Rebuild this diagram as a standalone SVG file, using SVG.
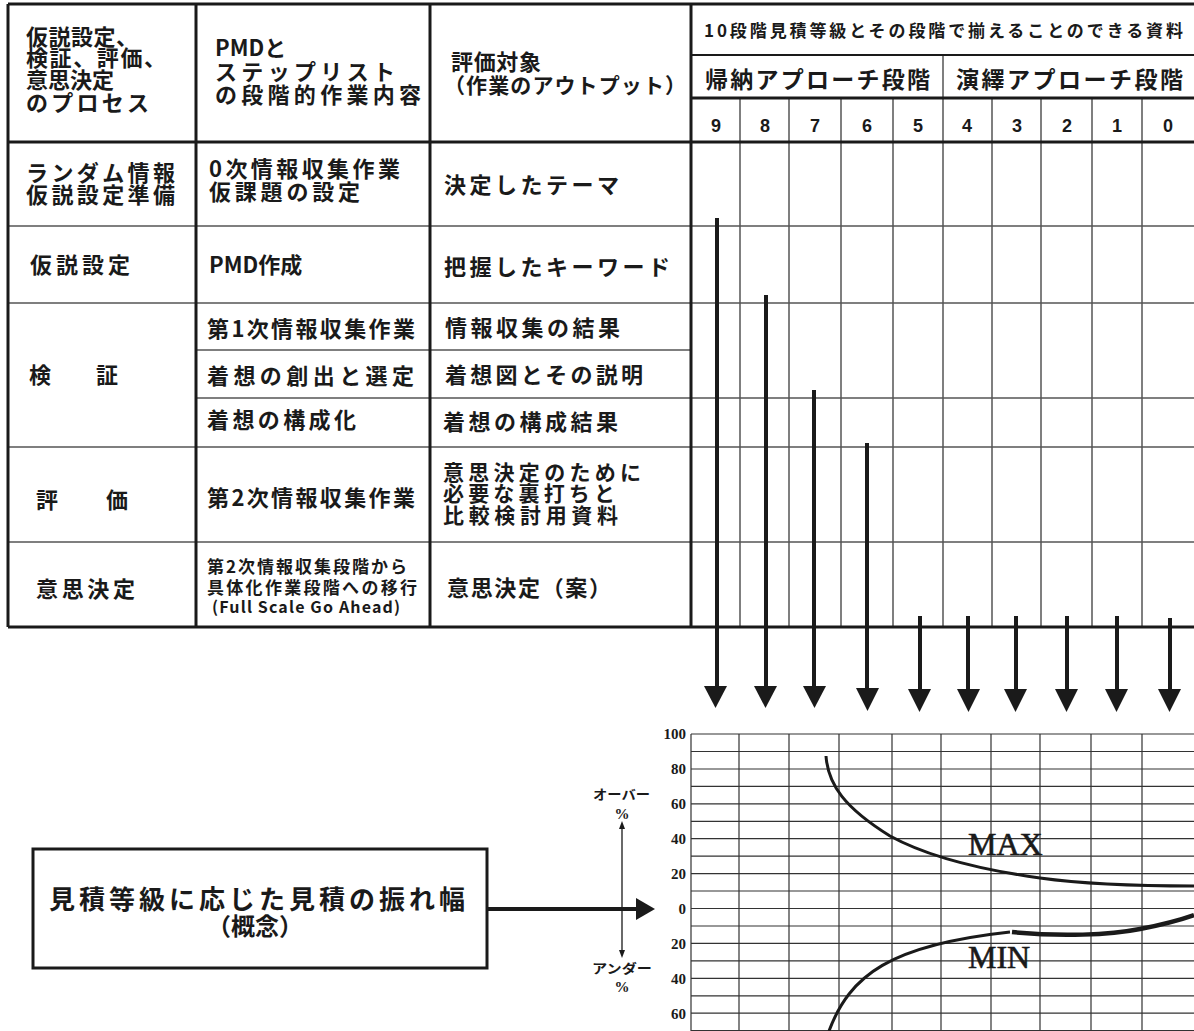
<svg xmlns="http://www.w3.org/2000/svg" width="1194" height="1031" viewBox="0 0 1194 1031">
<style>
.jp{font-family:"Noto Sans CJK JP","Noto Sans",sans-serif;font-weight:bold;fill:#1a1a1a}
.th{stroke:#1a1a1a;stroke-width:3;fill:none}
.md{stroke:#1a1a1a;stroke-width:2;fill:none}
.tn{stroke:#555;stroke-width:1.5;fill:none}
.gr{stroke:#333;stroke-width:1.2;fill:none}
.ar{stroke:#1a1a1a;stroke-width:4;fill:none}
.hd{fill:#1a1a1a}
.ax{font-family:"Liberation Serif",serif;font-weight:bold;font-size:15px;fill:#1a1a1a;text-anchor:end}
.big{font-family:"Liberation Serif",serif;font-size:32px;fill:#1a1a1a;stroke:#1a1a1a;stroke-width:0.6}
.num{font-family:"Liberation Sans",sans-serif;font-weight:bold;font-size:18px;fill:#1a1a1a;text-anchor:middle}
</style>
<rect width="1194" height="1031" fill="#fff"/>
<g id="table-lines">
<path class="tn" d="M8,226H1194M8,303H1194M196,350H691M196,398H1194M8,447H1194M8,542H1194"/>
<path class="tn" d="M740,98V627M789,98V627M841,98V627M893,98V627M992,98V627M1041,98V627M1092,98V627M1142,98V627M943,55V627"/>
<path class="md" d="M691,55H1194"/>
<path class="th" d="M8,4H1194M8,4V627M196,4V627M430,4V627M691,4V627M8,142H1194M691,98H1194M8,627H1194"/>
</g>
<g id="header">
<text class="jp" font-size="22" x="26" y="45" textLength="112">仮説設定、</text>
<text class="jp" font-size="22" x="26" y="66" textLength="140">検証、評価、</text>
<text class="jp" font-size="22" x="26" y="88" textLength="88">意思決定</text>
<text class="jp" font-size="22" x="26" y="111" textLength="123">のプロセス</text>
<text class="jp" font-size="22" x="215" y="56">PMDと</text>
<text class="jp" font-size="22" x="215" y="80" textLength="180">ステップリスト</text>
<text class="jp" font-size="22" x="215" y="103" textLength="206">の段階的作業内容</text>
<text class="jp" font-size="22" x="451" y="70" textLength="90">評価対象</text>
<text class="jp" font-size="21" x="444" y="93" textLength="242">（作業のアウトプット）</text>
<text class="jp" font-size="17" x="704" y="37" textLength="479">10段階見積等級とその段階で揃えることのできる資料</text>
<text class="jp" font-size="23" x="705" y="88" textLength="225">帰納アプローチ段階</text>
<text class="jp" font-size="23" x="956" y="88" textLength="227">演繹アプローチ段階</text>
<text class="num" x="716" y="132">9</text>
<text class="num" x="765" y="132">8</text>
<text class="num" x="815" y="132">7</text>
<text class="num" x="867" y="132">6</text>
<text class="num" x="918" y="132">5</text>
<text class="num" x="967" y="132">4</text>
<text class="num" x="1017" y="132">3</text>
<text class="num" x="1067" y="132">2</text>
<text class="num" x="1117" y="132">1</text>
<text class="num" x="1168" y="132">0</text>
</g>
<g id="row-random">
<text class="jp" font-size="22" x="26" y="181" textLength="149">ランダム情報</text>
<text class="jp" font-size="22" x="26" y="203" textLength="149">仮説設定準備</text>
<text class="jp" font-size="22" x="209" y="177" textLength="191">0次情報収集作業</text>
<text class="jp" font-size="22" x="209" y="200" textLength="151">仮課題の設定</text>
<text class="jp" font-size="22" x="444" y="193" textLength="175">決定したテーマ</text>
</g>
<g id="row-hypothesis">
<text class="jp" font-size="22" x="30" y="273" textLength="100">仮説設定</text>
<text class="jp" font-size="22" x="209" y="273">PMD作成</text>
<text class="jp" font-size="22" x="444" y="275" textLength="226">把握したキーワード</text>
</g>
<g id="row-verify">
<text class="jp" font-size="22" x="29" y="383">検</text>
<text class="jp" font-size="22" x="96" y="383">証</text>
<text class="jp" font-size="22" x="207" y="337" textLength="208">第1次情報収集作業</text>
<text class="jp" font-size="22" x="445" y="336" textLength="175">情報収集の結果</text>
<text class="jp" font-size="22" x="207" y="384" textLength="207">着想の創出と選定</text>
<text class="jp" font-size="22" x="445" y="383" textLength="198">着想図とその説明</text>
<text class="jp" font-size="22" x="207" y="428" textLength="149">着想の構成化</text>
<text class="jp" font-size="22" x="443" y="430" textLength="175">着想の構成結果</text>
</g>
<g id="row-evaluate">
<text class="jp" font-size="22" x="36" y="508">評</text>
<text class="jp" font-size="22" x="106" y="508">価</text>
<text class="jp" font-size="22" x="207" y="506" textLength="208">第2次情報収集作業</text>
<text class="jp" font-size="21" x="443" y="480" textLength="198">意思決定のために</text>
<text class="jp" font-size="21" x="443" y="501" textLength="172">必要な裏打ちと</text>
<text class="jp" font-size="21" x="443" y="523" textLength="175">比較検討用資料</text>
</g>
<g id="row-decide">
<text class="jp" font-size="22" x="36" y="597" textLength="99">意思決定</text>
<text class="jp" font-size="17" x="207" y="573" textLength="200">第2次情報収集段階から</text>
<text class="jp" font-size="17" x="207" y="594" textLength="210">具体化作業段階への移行</text>
<text class="jp" font-size="16" x="212" y="613" textLength="188">(Full Scale Go Ahead)</text>
<text class="jp" font-size="22" x="447" y="596" textLength="164">意思決定（案）</text>
</g>
<g id="connectors">
<path class="ar" d="M717,218V688M766,295V688M814,390V688M867,443V690M920,616V691M968,616V691M1016,616V691M1067,616V691M1117,616V691M1170,618V691"/>
<polygon class="hd" points="704,686 727,686 715.5,708"/>
<polygon class="hd" points="754,686 777,686 765.5,708"/>
<polygon class="hd" points="803,686 826,686 814.5,708"/>
<polygon class="hd" points="856,688 879,688 867.5,711"/>
<polygon class="hd" points="908,689 931,689 919.5,712"/>
<polygon class="hd" points="957,689 980,689 968.5,712"/>
<polygon class="hd" points="1004,689 1027,689 1015.5,712"/>
<polygon class="hd" points="1055,689 1078,689 1066.5,712"/>
<polygon class="hd" points="1105,689 1128,689 1116.5,712"/>
<polygon class="hd" points="1158,689 1181,689 1169.5,712"/>
<path class="ar" d="M487,909H638"/>
<polygon class="hd" points="636,898 655,909 636,920"/>
</g>
<g id="concept-box">
<rect x="33" y="849" width="454" height="119" class="th"/>
<text class="jp" font-size="26" x="49" y="909" textLength="416">見積等級に応じた見積の振れ幅</text>
<text class="jp" font-size="24" x="255" y="935" text-anchor="middle">（概念）</text>
</g>
<g id="chart">
<path class="gr" d="M691,734V1031M739,734V1031M789,734V1031M839,734V1031M892,734V1031M941,734V1031M991,734V1031M1040,734V1031M1091,734V1031M1142,734V1031"/>
<path class="gr" d="M691,734H1194M691,751.5H1194M691,769H1194M691,786.4H1194M691,803.8H1194M691,821.3H1194M691,838.7H1194M691,856.2H1194M691,873.6H1194M691,891H1194M691,908.5H1194M691,926H1194M691,943.4H1194M691,960.9H1194M691,978.3H1194M691,995.8H1194M691,1013.2H1194M691,1030.6H1194"/>
<text class="ax" x="686" y="739">100</text>
<text class="ax" x="686" y="774">80</text>
<text class="ax" x="686" y="809">60</text>
<text class="ax" x="686" y="844">40</text>
<text class="ax" x="686" y="879">20</text>
<text class="ax" x="686" y="914">0</text>
<text class="ax" x="686" y="948.5">20</text>
<text class="ax" x="686" y="983.5">40</text>
<text class="ax" x="686" y="1018.5">60</text>
<path d="M826,756C828,785 845,808 890,836C930,858 990,871 1040,878C1090,885 1140,886 1194,886" stroke="#1a1a1a" stroke-width="3" fill="none"/>
<path d="M829,1031C850,975 890,945 1010,932" stroke="#1a1a1a" stroke-width="3" fill="none"/>
<path d="M1012,932C1060,937 1110,935 1140,929C1160,925 1180,920 1194,915" stroke="#1a1a1a" stroke-width="4.5" fill="none"/>
<text class="big" x="968" y="855">MAX</text>
<text class="big" x="968" y="968">MIN</text>
<path d="M622,826V952" stroke="#1a1a1a" stroke-width="1.3" fill="none"/>
<polygon class="hd" points="619,829 625,829 622,821"/>
<polygon class="hd" points="619,950 625,950 622,958"/>
<text class="jp" font-size="13" x="593" y="799" textLength="57" lengthAdjust="spacingAndGlyphs">オーバー</text>
<text class="ax" x="622" y="819" style="text-anchor:middle">%</text>
<text class="jp" font-size="13" x="592" y="973" textLength="60" lengthAdjust="spacingAndGlyphs">アンダー</text>
<text class="ax" x="622" y="992" style="text-anchor:middle">%</text>
</g>
</svg>
